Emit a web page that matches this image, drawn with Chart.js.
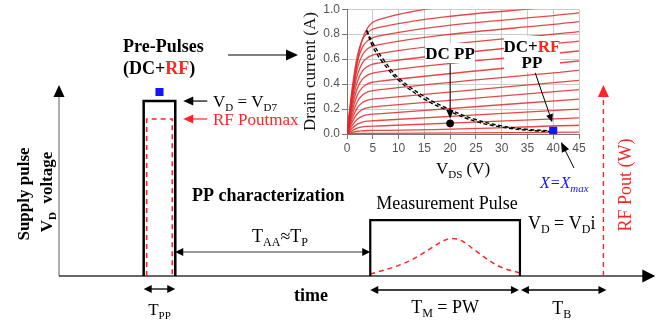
<!DOCTYPE html>
<html>
<head>
<meta charset="utf-8">
<script src="https://cdn.jsdelivr.net/npm/chart.js@4.4.1/dist/chart.umd.min.js"></script>
<style>
  html, body { margin: 0; padding: 0; background: #fff; }
  #wrap { position: relative; width: 661px; height: 327px; }
  #main { position: absolute; left: 0; top: 0; }
  #iv { position: absolute; left: 290px; top: 0; }
</style>
</head>
<body>
<div id="wrap">
  <canvas id="main" width="661" height="327"></canvas>
  <canvas id="iv" width="310" height="180"></canvas>
</div>
<script>
// ---- timing diagram (time in arbitrary units 0-100, supply voltage normalised 0-1)
const prePulseT = [14.2, 14.2, 19.5, 19.5];
const prePulseV = [0, 0.916, 0.916, 0];
const preRfT = [14.7, 14.7, 19.0, 19.0];
const preRfV = [0, 0.822, 0.822, 0];
const measPulseT = [52.2, 52.2, 77.3, 77.3];
const measPulseV = [0, 0.293, 0.293, 0];
const rfEnvT = [52.2, 53.6, 56.4, 59.1, 61.9, 64.2, 65.8, 67.5, 69.7, 72.0, 74.2, 77.2];
const rfEnvV = [0.010, 0.023, 0.049, 0.084, 0.136, 0.180, 0.197, 0.185, 0.136, 0.084, 0.045, 0.017];
const rfAxisT = 91.3;
const preMarkV = 0.963;

// ---- I-V inset: drain current (A) vs VDS (V)
const vdsSteps = [0, 1, 2, 3, 4, 5, 6, 45];
const idCurves = [
  [0, 0.300, 0.580, 0.760, 0.850, 0.895, 0.915, 1.100],
  [0, 0.365, 0.626, 0.757, 0.813, 0.840, 0.853, 1.040],
  [0, 0.336, 0.576, 0.696, 0.748, 0.772, 0.784, 0.970],
  [0, 0.307, 0.526, 0.635, 0.683, 0.704, 0.715, 0.900],
  [0, 0.275, 0.472, 0.570, 0.612, 0.632, 0.642, 0.820],
  [0, 0.244, 0.418, 0.505, 0.542, 0.560, 0.568, 0.745],
  [0, 0.212, 0.364, 0.439, 0.472, 0.487, 0.495, 0.665],
  [0, 0.181, 0.310, 0.374, 0.402, 0.415, 0.421, 0.585],
  [0, 0.151, 0.259, 0.313, 0.337, 0.347, 0.353, 0.510],
  [0, 0.122, 0.209, 0.252, 0.271, 0.280, 0.284, 0.430],
  [0, 0.095, 0.162, 0.196, 0.210, 0.217, 0.221, 0.355],
  [0, 0.069, 0.119, 0.144, 0.154, 0.159, 0.162, 0.280],
  [0, 0.046, 0.079, 0.096, 0.103, 0.106, 0.108, 0.200],
  [0, 0.027, 0.047, 0.057, 0.061, 0.063, 0.064, 0.130],
  [0, 0.013, 0.022, 0.026, 0.028, 0.029, 0.029, 0.070],
  [0, 0.002, 0.004, 0.004, 0.005, 0.005, 0.005, 0.015]
];
const loadVds = [3.8, 5, 7, 10, 15, 20, 25, 30, 35, 40];
const loadDc = [0.83, 0.73, 0.60, 0.45, 0.30, 0.195, 0.115, 0.065, 0.037, 0.025];
const loadRf = [0.83, 0.70, 0.57, 0.43, 0.28, 0.180, 0.100, 0.055, 0.030, 0.018];
const dcPoint = [20, 0.085];
const rfPoint = [40, 0.025];
const vdsTicks = [0, 5, 10, 15, 20, 25, 30, 35, 40, 45];

const SERIF = '"Liberation Serif", "Times New Roman", serif';
const RED = '#ff2424';
const BLUE = '#1414ff';

const xy = (xs, ys) => xs.map((x, i) => ({ x: x, y: ys[i] }));

function fontOf(p, size) {
  const s = Math.round(p.sub ? size * 0.66 : size);
  return (p.i ? 'italic ' : '') + (p.b ? 'bold ' : '') + s + 'px ' + SERIF;
}

// draws a run of text pieces; pieces can be subscript, coloured, bold or italic
function richText(ctx, parts, x, y, size, align, base) {
  base = base || {};
  const items = parts.map(p => typeof p === 'string'
    ? Object.assign({}, base, { t: p })
    : Object.assign({}, base, p));
  let w = 0;
  items.forEach(p => { ctx.font = fontOf(p, size); p.w = ctx.measureText(p.t).width; w += p.w; });
  let cx = align === 'center' ? x - w / 2 : (align === 'right' ? x - w : x);
  const baseline = y + size * 0.33;
  ctx.textAlign = 'left';
  ctx.textBaseline = 'alphabetic';
  items.forEach(p => {
    ctx.font = fontOf(p, size);
    ctx.fillStyle = p.c || '#000';
    ctx.fillText(p.t, cx, p.sub ? baseline + size * 0.24 : baseline);
    cx += p.w;
  });
  return w;
}

function head(ctx, x0, y0, x1, y1, color, len, half) {
  const a = Math.atan2(y1 - y0, x1 - x0), c = Math.cos(a), s = Math.sin(a);
  ctx.fillStyle = color;
  ctx.beginPath();
  ctx.moveTo(x1, y1);
  ctx.lineTo(x1 - len * c - half * s, y1 - len * s + half * c);
  ctx.lineTo(x1 - len * c + half * s, y1 - len * s - half * c);
  ctx.closePath();
  ctx.fill();
}

function arrow(ctx, x0, y0, x1, y1, o) {
  o = Object.assign({ color: '#000', head: null, width: 1.3, len: 9, half: 4, dash: [] }, o);
  const a = Math.atan2(y1 - y0, x1 - x0);
  ctx.save();
  ctx.strokeStyle = o.color;
  ctx.lineWidth = o.width;
  ctx.setLineDash(o.dash);
  ctx.beginPath();
  ctx.moveTo(x0, y0);
  ctx.lineTo(x1 - o.len * 0.7 * Math.cos(a), y1 - o.len * 0.7 * Math.sin(a));
  ctx.stroke();
  ctx.setLineDash([]);
  head(ctx, x0, y0, x1, y1, o.head || o.color, o.len, o.half);
  ctx.restore();
}

// double headed dimension arrow
function span(ctx, xa, xb, y, o) {
  o = Object.assign({ color: '#000', head: '#000', width: 1.3, len: 8, half: 4 }, o);
  ctx.save();
  ctx.strokeStyle = o.color;
  ctx.lineWidth = o.width;
  ctx.beginPath();
  ctx.moveTo(xa + o.len * 0.7, y);
  ctx.lineTo(xb - o.len * 0.7, y);
  ctx.stroke();
  head(ctx, xb, y, xa, y, o.head, o.len, o.half);
  head(ctx, xa, y, xb, y, o.head, o.len, o.half);
  ctx.restore();
}

function rotated(ctx, cx, cy, fn) {
  ctx.save();
  ctx.translate(cx, cy);
  ctx.rotate(-Math.PI / 2);
  fn();
  ctx.restore();
}

const diagramNotes = {
  id: 'diagramNotes',
  beforeDatasetsDraw(chart) {
    const ctx = chart.ctx, sx = chart.scales.x, sy = chart.scales.y;
    const x0 = sx.getPixelForValue(0), y0 = sy.getPixelForValue(0);
    const yTop = sy.getPixelForValue(1), xEnd = sx.getPixelForValue(100);
    const xRf = sx.getPixelForValue(rfAxisT);
    // supply voltage axis
    arrow(ctx, x0, y0, x0, yTop, { color: '#777', head: '#000', width: 1.2, len: 12, half: 5.5 });
    // time axis
    arrow(ctx, x0, y0, xEnd, y0, { color: '#333', head: '#000', width: 1.6, len: 13, half: 6.5 });
    // RF output axis
    arrow(ctx, xRf, y0, xRf, yTop, { color: RED, width: 1.4, len: 12, half: 5.5, dash: [5, 4] });
  },
  afterDatasetsDraw(chart) {
    const ctx = chart.ctx, sx = chart.scales.x, sy = chart.scales.y;
    const y0 = sy.getPixelForValue(0);
    const preA = sx.getPixelForValue(prePulseT[0]), preB = sx.getPixelForValue(prePulseT[2]);
    const mA = sx.getPixelForValue(measPulseT[0]), mB = sx.getPixelForValue(measPulseT[2]);
    const xRf = sx.getPixelForValue(rfAxisT);
    const yPre = sy.getPixelForValue(prePulseV[1]), yRf = sy.getPixelForValue(preRfV[1]);

    richText(ctx, ['Pre-Pulses'], 123, 46, 18, 'left', { b: true });
    richText(ctx, ['(DC+', { t: 'RF', c: RED }, ')'], 123, 68, 18, 'left', { b: true });
    arrow(ctx, 228, 55, 298, 55, { width: 1.2, len: 12, half: 5.5 });

    arrow(ctx, preB + 32, yPre, preB + 8, yPre, { width: 1.2, len: 10, half: 4.5 });
    arrow(ctx, preB + 32, yRf, preB + 8, yRf, { color: RED, width: 1.2, len: 10, half: 4.5 });
    richText(ctx, ['V', { t: 'D', sub: true }, ' = V', { t: 'D7', sub: true }], 213, yPre, 17, 'left');
    richText(ctx, ['RF Poutmax'], 213, yRf, 17, 'left', { c: RED });

    rotated(ctx, 23, 194, () => richText(ctx, ['Supply pulse'], 0, 0, 17, 'center', { b: true }));
    rotated(ctx, 46, 192, () => richText(ctx, ['V', { t: 'D', sub: true }, '  voltage'], 0, 0, 17, 'center', { b: true }));

    span(ctx, preA, preB, y0 + 13);
    richText(ctx, ['T', { t: 'PP', sub: true }], (preA + preB) / 2, y0 + 33, 17, 'center');

    richText(ctx, ['time'], 311, y0 + 19, 18, 'center', { b: true });
    richText(ctx, ['PP characterization'], 192, 195, 18, 'left', { b: true });

    span(ctx, preB, mA, 252, { color: '#999', width: 2 });
    richText(ctx, ['T', { t: 'AA', sub: true }, '\u2248T', { t: 'P', sub: true }], 280, 236, 18, 'center');

    richText(ctx, ['Measurement Pulse'], (mA + mB) / 2 + 2, 203, 18, 'center');
    richText(ctx, ['V', { t: 'D', sub: true }, ' = V', { t: 'D', sub: true }, 'i'], mB + 8, 223, 18, 'left');

    span(ctx, mA, mB - 1, y0 + 14);
    span(ctx, mB + 1, xRf + 3, y0 + 14);
    richText(ctx, ['T', { t: 'M', sub: true }, ' = PW'], (mA + mB) / 2, y0 + 31, 18, 'center');
    richText(ctx, ['T', { t: 'B', sub: true }], (mB + xRf) / 2, y0 + 32, 18, 'center');

    rotated(ctx, 625, 185, () => richText(ctx, ['RF Pout (W)'], 0, 0, 18, 'center', { c: RED }));

    richText(ctx, ['X=X', { t: 'max', sub: true }], 540, 183, 16, 'left', { c: BLUE, i: true });
    arrow(ctx, 574, 168, 561, 142, { width: 1, len: 10, half: 4 });
  }
};

new Chart(document.getElementById('main'), {
  type: 'line',
  data: {
    datasets: [
      { data: [{ x: (prePulseT[0] + prePulseT[2]) / 2, y: preMarkV }], showLine: false,
        pointStyle: 'rect', pointRadius: 5.7, backgroundColor: BLUE, borderColor: BLUE, borderWidth: 0 },
      { data: xy(prePulseT, prePulseV), borderColor: '#000', borderWidth: 2.5, pointRadius: 0 },
      { data: xy(preRfT, preRfV), borderColor: RED, borderWidth: 1.6, borderDash: [5, 4], pointRadius: 0 },
      { data: xy(measPulseT, measPulseV), borderColor: '#000', borderWidth: 2.2, pointRadius: 0 },
      { data: xy(rfEnvT, rfEnvV), borderColor: RED, borderWidth: 1.5, borderDash: [5, 4],
        pointRadius: 0, cubicInterpolationMode: 'monotone' }
    ]
  },
  options: {
    responsive: false,
    animation: false,
    events: [],
    layout: { padding: { left: 59, right: 3, top: 85, bottom: 51 } },
    plugins: { legend: { display: false }, tooltip: { enabled: false } },
    scales: {
      x: { type: 'linear', min: 0, max: 100, display: false },
      y: { type: 'linear', min: 0, max: 1, display: false }
    },
    elements: { line: { fill: false, borderJoinStyle: 'miter' } }
  },
  plugins: [diagramNotes]
});

const ivNotes = {
  id: 'ivNotes',
  beforeDraw(chart) {
    const a = chart.chartArea, ctx = chart.ctx;
    ctx.save();
    ctx.fillStyle = '#fff';
    ctx.fillRect(a.left, a.top, a.right - a.left, a.bottom - a.top);
    ctx.restore();
  },
  afterDraw(chart) {
    const ctx = chart.ctx, sx = chart.scales.x, sy = chart.scales.y, a = chart.chartArea;
    const P = (v, i) => [sx.getPixelForValue(v), sy.getPixelForValue(i)];

    richText(ctx, ['V', { t: 'DS', sub: true }, ' (V)'], (a.left + a.right) / 2, 168, 17, 'center');

    const box = (cx, cy, w, h) => {
      ctx.fillStyle = '#fff';
      ctx.fillRect(cx - w / 2, cy - h / 2, w, h);
    };
    box(160, 53, 50, 20);
    richText(ctx, ['DC PP'], 160, 53, 17, 'center', { b: true });
    box(242, 54, 56, 36);
    richText(ctx, ['DC+', { t: 'RF', c: RED }], 242, 46, 17, 'center', { b: true });
    richText(ctx, ['PP'], 242, 62, 17, 'center', { b: true });

    let p0 = P(20, 0.56), p1 = P(20, 0.125);
    arrow(ctx, p0[0], p0[1], p1[0], p1[1], { width: 1, len: 8, half: 3.5 });
    p0 = P(36.5, 0.49); p1 = P(39.8, 0.095);
    arrow(ctx, p0[0], p0[1], p1[0], p1[1], { width: 1, len: 8, half: 3.5 });
  }
};

const ivSets = idCurves.map(c => ({
  data: xy(vdsSteps, c), borderColor: 'rgba(226, 40, 40, 0.85)', borderWidth: 1.3,
  pointRadius: 0, cubicInterpolationMode: 'monotone', order: 3
}));
ivSets.push(
  { data: xy(loadVds, loadDc), borderColor: '#000', borderWidth: 1.4, borderDash: [4, 2.5],
    pointRadius: 0, tension: 0.4, order: 2 },
  { data: xy(loadVds, loadRf), borderColor: '#000', borderWidth: 1.4, borderDash: [4, 2.5],
    pointRadius: 0, tension: 0.4, order: 2 },
  { data: [{ x: dcPoint[0], y: dcPoint[1] }], showLine: false, pointRadius: 3.5,
    backgroundColor: '#000', borderColor: '#000', order: 1 },
  { data: [{ x: rfPoint[0], y: rfPoint[1] }], showLine: false, pointStyle: 'rect', pointRadius: 5.7,
    backgroundColor: BLUE, borderColor: BLUE, borderWidth: 0, order: 0 }
);

new Chart(document.getElementById('iv'), {
  type: 'line',
  data: { datasets: ivSets },
  options: {
    responsive: false,
    animation: false,
    events: [],
    layout: { padding: { top: 8, right: 21, left: 0, bottom: 0 } },
    plugins: { legend: { display: false }, tooltip: { enabled: false } },
    scales: {
      x: {
        type: 'linear', min: 0, max: 45,
        afterFit: s => { s.height = 46; },
        afterBuildTicks: s => { s.ticks = vdsTicks.map(v => ({ value: v })); },
        ticks: { color: '#555', padding: 2, font: { family: '"Liberation Sans", Arial, sans-serif', size: 12 } },
        grid: { color: '#cccccc', tickColor: '#777', tickLength: 5 },
        border: { color: '#777' }
      },
      y: {
        type: 'linear', min: 0, max: 1,
        afterFit: s => { s.width = 57; },
        ticks: { stepSize: 0.1, color: '#555', padding: 2, callback: v => v.toFixed(1),
                 font: { family: '"Liberation Sans", Arial, sans-serif', size: 12 } },
        grid: { color: '#cccccc', tickColor: '#777', tickLength: 5 },
        border: { color: '#777' },
        title: { display: true, text: 'Drain current (A)', color: '#111', padding: { top: 10, bottom: 0 },
                 font: { family: SERIF, size: 17 } }
      }
    }
  },
  plugins: [ivNotes]
});
</script>
</body>
</html>
